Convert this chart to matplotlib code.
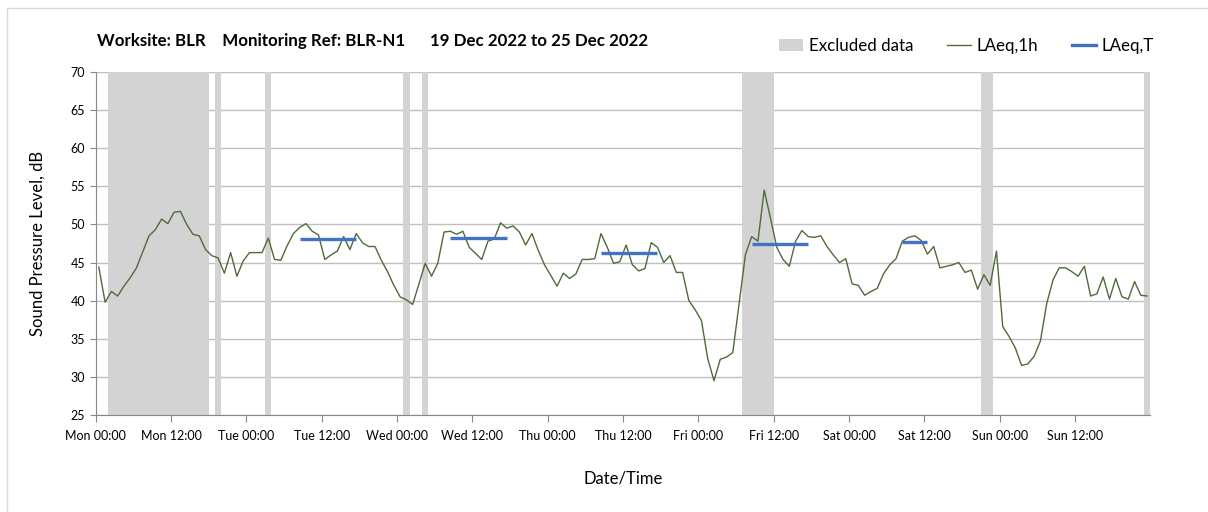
import matplotlib
matplotlib.use("Agg")
import matplotlib.pyplot as plt
import numpy as np
from matplotlib.lines import Line2D
from matplotlib.patches import Patch, Rectangle

plt.rcParams["font.family"] = ["Lato", "DejaVu Sans"]

# hourly LAeq,1h values, Mon 19 Dec 00:00 onwards (one per hour)
laeq_1h = [
    44.4, 39.8, 41.2, 40.6, 41.9, 43.0, 44.3, 46.4, 48.5, 49.3,
    50.7, 50.1, 51.6, 51.7, 50.0, 48.7, 48.5, 46.7, 45.9, 45.6,
    43.6, 46.3, 43.2, 45.2, 46.3, 46.3, 46.3, 48.2, 45.4, 45.3,
    47.2, 48.8, 49.6, 50.1, 49.1, 48.6, 45.4, 46.0, 46.5, 48.4,
    46.7, 48.8, 47.6, 47.1, 47.1, 45.3, 43.8, 42.0, 40.5, 40.1,
    39.5, 42.2, 44.9, 43.2, 44.9, 49.0, 49.1, 48.7, 49.1, 47.0,
    46.2, 45.4, 47.8, 48.1, 50.2, 49.5, 49.8, 49.0, 47.3, 48.8,
    46.6, 44.7, 43.3, 41.9, 43.6, 42.9, 43.5, 45.4, 45.4, 45.5,
    48.8, 47.0, 44.9, 45.1, 47.3, 44.7, 43.9, 44.2, 47.6, 47.0,
    45.0, 45.9, 43.7, 43.7, 40.0, 38.8, 37.4, 32.4, 29.5, 32.3,
    32.6, 33.2, 39.6, 46.0, 48.4, 47.8, 54.5, 50.8, 47.0, 45.4,
    44.5, 47.8, 49.2, 48.4, 48.3, 48.5, 47.1, 46.0, 45.0, 45.5,
    42.2, 42.0, 40.7, 41.2, 41.6, 43.5, 44.7, 45.5, 47.8, 48.3,
    48.5, 47.9, 46.1, 47.1, 44.3, 44.5, 44.7, 45.0, 43.7, 44.0,
    41.5, 43.4, 42.0, 46.5, 36.6, 35.3, 33.8, 31.5, 31.7, 32.7,
    34.7, 39.6, 42.7, 44.3, 44.3, 43.8, 43.2, 44.5, 40.6, 40.9,
    43.1, 40.2, 42.9, 40.5, 40.2, 42.5, 40.7, 40.6,
]

# excluded periods, hours from Mon 00:00
excluded_start = [2, 19, 27, 49, 52, 103, 141, 167]
excluded_end = [18, 20, 28, 50, 53, 108, 143, 168]

# LAeq,T daytime averages
laeqt_start = [32.5, 56.5, 80.5, 104.5, 128.5]
laeqt_end = [41.5, 65.5, 89.5, 113.5, 132.5]
laeqt_value = [48.1, 48.25, 46.3, 47.4, 47.7]

tick_labels = [
    "Mon 00:00", "Mon 12:00", "Tue 00:00", "Tue 12:00", "Wed 00:00",
    "Wed 12:00", "Thu 00:00", "Thu 12:00", "Fri 00:00", "Fri 12:00",
    "Sat 00:00", "Sat 12:00", "Sun 00:00", "Sun 12:00",
]

hours = np.arange(len(laeq_1h)) + 0.5

fig = plt.figure(figsize=(12.08, 5.12), dpi=100)
ax = fig.add_axes([0.0792, 0.1895, 0.873, 0.670])

for x0, x1 in zip(excluded_start, excluded_end):
    ax.axvspan(x0, x1, color="#d3d3d3", lw=0, zorder=1)

ax.plot(hours, laeq_1h, color="#4f6b3a", lw=1.0, zorder=3)
for x0, x1, v in zip(laeqt_start, laeqt_end, laeqt_value):
    ax.plot([x0, x1], [v, v], color="#4472c4", lw=2.4, solid_capstyle="butt", zorder=4)

ax.set_xlim(0, 168)
ax.set_ylim(25, 70)
ax.set_yticks(np.arange(25, 71, 5))
ax.set_xticks(np.arange(0, 168, 12))
ax.set_xticklabels(tick_labels)
ax.set_xticks(np.arange(0, 169, 24), minor=True)
ax.tick_params(axis="x", which="major", length=5, color="#888888", labelsize=9, pad=6)
ax.tick_params(axis="x", which="minor", length=0)
ax.tick_params(axis="y", length=4, color="#888888", labelsize=9)
ax.grid(axis="y", color="#bfbfbf", lw=1.0, zorder=0)
ax.grid(axis="x", which="minor", color="#dddddd", lw=1.0, zorder=0)
ax.set_axisbelow(True)
for side in ["top", "right"]:
    ax.spines[side].set_visible(False)
for side in ["left", "bottom"]:
    ax.spines[side].set_color("#888888")

ax.set_ylabel("Sound Pressure Level, dB", fontsize=12, labelpad=18)
ax.set_xlabel("Date/Time", fontsize=12, labelpad=20)

fig.text(0.080, 0.92, "Worksite: BLR    Monitoring Ref: BLR-N1      19 Dec 2022 to 25 Dec 2022",
         fontsize=12.2, fontweight="bold", va="center")

handles = [
    Patch(facecolor="#d3d3d3", edgecolor="none"),
    Line2D([], [], color="#4f6b3a", lw=1.0),
    Line2D([], [], color="#4472c4", lw=2.4),
]
fig.legend(handles, ["Excluded data", "LAeq,1h", "LAeq,T"], loc="center right",
           bbox_to_anchor=(0.968, 0.91), ncol=3, frameon=False, fontsize=12.2,
           handlelength=1.4, handletextpad=0.35, columnspacing=2.0)

fig.patches.append(Rectangle((7 / 1208, -0.1), 1.2, 1.1 - 8 / 512, transform=fig.transFigure,
                             fill=False, edgecolor="#d9d9d9", lw=1.0))

fig.savefig("out.png", dpi=100)
